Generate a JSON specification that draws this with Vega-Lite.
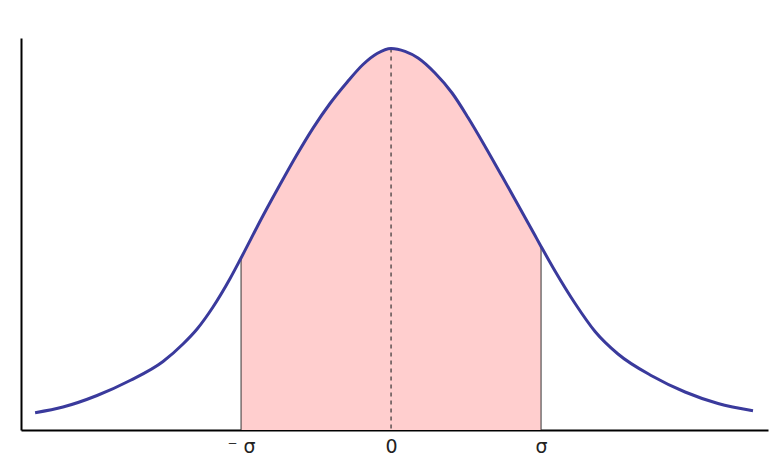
{
  "$schema": "https://vega.github.io/schema/vega-lite/v6.json",
  "width": 747,
  "height": 392,
  "autosize": {"type": "none"},
  "padding": {"left": 21, "top": 38, "right": 11, "bottom": 38},
  "background": "white",
  "config": {"view": {"stroke": null}, "axis": {"grid": false}},
  "datasets": {
    "curve": [
      {"x": -2.373, "h": 17.3},
      {"x": -2.187, "h": 23},
      {"x": -1.96, "h": 34.5},
      {"x": -1.74, "h": 49.5},
      {"x": -1.52, "h": 68.5},
      {"x": -1.387, "h": 86},
      {"x": -1.293, "h": 101},
      {"x": -1.187, "h": 123},
      {"x": -1.073, "h": 151.5},
      {"x": -1.0, "h": 172},
      {"x": -0.853, "h": 214.5},
      {"x": -0.74, "h": 245.5},
      {"x": -0.627, "h": 275.5},
      {"x": -0.52, "h": 301.9},
      {"x": -0.407, "h": 326.5},
      {"x": -0.293, "h": 347.8},
      {"x": -0.187, "h": 365.5},
      {"x": -0.093, "h": 376.5},
      {"x": 0.0, "h": 381.5},
      {"x": 0.093, "h": 378.6},
      {"x": 0.18, "h": 372},
      {"x": 0.293, "h": 357},
      {"x": 0.407, "h": 337},
      {"x": 0.513, "h": 312.5},
      {"x": 0.627, "h": 283.6},
      {"x": 0.74, "h": 253.7},
      {"x": 0.847, "h": 225},
      {"x": 0.96, "h": 194.4},
      {"x": 1.0, "h": 183.6},
      {"x": 1.093, "h": 159},
      {"x": 1.227, "h": 126.5},
      {"x": 1.36, "h": 98.5},
      {"x": 1.513, "h": 76},
      {"x": 1.74, "h": 54},
      {"x": 1.96, "h": 38},
      {"x": 2.18, "h": 26.5},
      {"x": 2.413, "h": 19.3}
    ],
    "bounds": [
      {"x": -1.0, "h": 172},
      {"x": 1.0, "h": 183.6}
    ],
    "center": [
      {"x": 0.0, "h": 381.5}
    ]
  },
  "layer": [
    {
      "data": {"name": "curve"},
      "transform": [{"filter": "datum.x >= -1 && datum.x <= 1"}],
      "mark": {"type": "area", "interpolate": "monotone", "color": "#ffcece", "opacity": 1},
      "encoding": {
        "x": {
          "field": "x", "type": "quantitative",
          "scale": {"domain": [-2.467, 2.513], "nice": false, "zero": false},
          "axis": {
            "title": null,
            "values": [-1, 0, 1],
            "labelExpr": "datum.value == -1 ? '⁻ σ' : (datum.value == 0 ? '0' : 'σ')",
            "ticks": false,
            "domainColor": "black",
            "domainWidth": 2,
            "labelFont": "DejaVu Sans",
            "labelFontSize": 19,
            "labelColor": "#222222",
            "labelPadding": 7
          }
        },
        "y": {
          "field": "h", "type": "quantitative",
          "scale": {"domain": [0, 392], "nice": false},
          "axis": {
            "title": null,
            "labels": false,
            "ticks": false,
            "domainColor": "black",
            "domainWidth": 2
          }
        }
      }
    },
    {
      "data": {"name": "bounds"},
      "mark": {"type": "rule", "color": "#333333", "strokeWidth": 1},
      "encoding": {
        "x": {"field": "x", "type": "quantitative"},
        "y": {"field": "h", "type": "quantitative"},
        "y2": {"datum": 0}
      }
    },
    {
      "data": {"name": "center"},
      "mark": {"type": "rule", "color": "#333333", "strokeWidth": 1.2, "strokeDash": [4, 4]},
      "encoding": {
        "x": {"field": "x", "type": "quantitative"},
        "y": {"field": "h", "type": "quantitative"},
        "y2": {"datum": 0}
      }
    },
    {
      "data": {"name": "curve"},
      "mark": {"type": "line", "interpolate": "monotone", "color": "#3a3a9c", "strokeWidth": 3},
      "encoding": {
        "x": {"field": "x", "type": "quantitative"},
        "y": {"field": "h", "type": "quantitative"}
      }
    }
  ]
}
